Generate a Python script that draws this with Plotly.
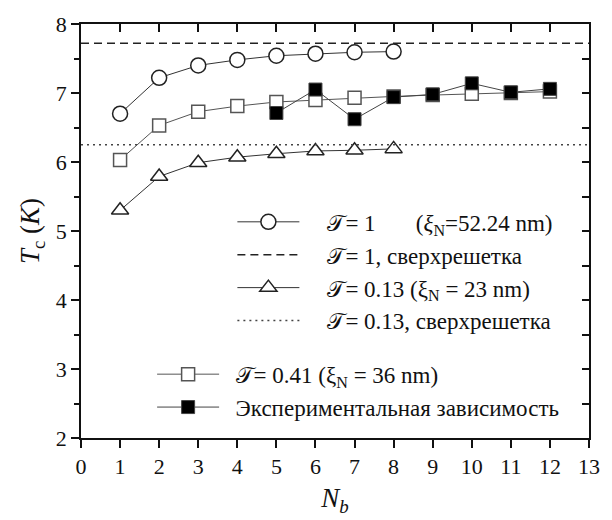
import plotly.graph_objects as go

# ---- data ----
nb_circ = [1, 2, 3, 4, 5, 6, 7, 8]
tc_circ = [6.70, 7.22, 7.40, 7.48, 7.54, 7.57, 7.59, 7.60]

nb_tri = [1, 2, 3, 4, 5, 6, 7, 8]
tc_tri = [5.30, 5.79, 5.99, 6.07, 6.12, 6.16, 6.17, 6.19]

nb_sq = [1, 2, 3, 4, 5, 6, 7, 8, 9, 10, 11, 12]
tc_sq = [6.03, 6.53, 6.73, 6.81, 6.87, 6.90, 6.93, 6.95, 6.97, 6.99, 7.00, 7.02]

nb_exp = [5, 6, 7, 8, 9, 10, 11, 12]
tc_exp = [6.71, 7.05, 6.62, 6.94, 6.98, 7.14, 7.01, 7.06]

sl_x = [0, 13]
tc_sl_1 = 7.72
tc_sl_013 = 6.25

x_ticks = list(range(0, 14))
y_ticks = [2, 3, 4, 5, 6, 7, 8]

SCRIPT_T = "\U0001D4AF"
FONT = '"Liberation Serif", "DejaVu Serif"'
PAD = "    "

fig = go.Figure()

fig.add_trace(go.Scatter(
    x=nb_circ, y=tc_circ, mode="lines+markers",
    name=PAD + SCRIPT_T + "= 1       (<i>ξ</i><sub>N</sub>=52.24 nm)",
    line=dict(color="#333333", width=1),
    marker=dict(symbol="circle", size=15, color="white",
                line=dict(color="#222222", width=1.5)),
    legend="legend", legendgroup="a"))

fig.add_trace(go.Scatter(
    x=sl_x, y=[tc_sl_1, tc_sl_1], mode="lines",
    name=PAD + SCRIPT_T + "= 1, сверхрешетка",
    line=dict(color="#222222", width=1.6, dash="8px,5px"),
    legend="legend", legendgroup="b"))

fig.add_trace(go.Scatter(
    x=nb_tri, y=tc_tri, mode="lines+markers",
    name=PAD + SCRIPT_T + "= 0.13 (ξ<sub>N</sub> = 23 nm)",
    line=dict(color="#333333", width=1),
    marker=dict(symbol="triangle-up", size=15, color="white",
                line=dict(color="#222222", width=1.5)),
    legend="legend", legendgroup="c"))

fig.add_trace(go.Scatter(
    x=sl_x, y=[tc_sl_013, tc_sl_013], mode="lines",
    name=PAD + SCRIPT_T + "= 0.13, сверхрешетка",
    line=dict(color="#444444", width=1.6, dash="2px,4px"),
    legend="legend", legendgroup="d"))

fig.add_trace(go.Scatter(
    x=nb_sq, y=tc_sq, mode="lines+markers",
    name="  " + SCRIPT_T + "= 0.41 (ξ<sub>N</sub> = 36 nm)",
    line=dict(color="#555555", width=1),
    marker=dict(symbol="square", size=13, color="white",
                line=dict(color="#555555", width=1.5)),
    legend="legend2", legendgroup="e"))

fig.add_trace(go.Scatter(
    x=nb_exp, y=tc_exp, mode="lines+markers",
    name="  Экспериментальная зависимость",
    line=dict(color="#444444", width=1),
    marker=dict(symbol="square", size=13, color="black",
                line=dict(color="#444444", width=1)),
    legend="legend2", legendgroup="f"))

# dummy trace to activate mirrored (top/right) axes
fig.add_trace(go.Scatter(x=[None], y=[None], xaxis="x2", yaxis="y2",
                         showlegend=False, hoverinfo="skip"))

legend_common = dict(
    font=dict(family=FONT, size=23, color="#111111"),
    bgcolor="rgba(0,0,0,0)", borderwidth=0,
    xanchor="left", yanchor="top",
    itemwidth=62, traceorder="normal")

fig.update_layout(
    width=612, height=520,
    margin=dict(l=81, r=16, t=17, b=80),
    paper_bgcolor="white", plot_bgcolor="white",
    font=dict(family=FONT, color="#111111"),
    legend=dict(x=0.298, y=0.574, tracegroupgap=1, **legend_common),
    legend2=dict(x=0.14, y=0.206, tracegroupgap=3, **legend_common),
    xaxis=dict(
        range=[0, 13], tickvals=x_ticks, ticks="outside", ticklen=8,
        tickwidth=1.5, tickcolor="#111", showline=True, linewidth=1.5,
        linecolor="#111", showgrid=False, zeroline=False,
        tickfont=dict(family=FONT, size=22, color="#111"),
        title=dict(text="<i>N</i><sub><i>b</i></sub>",
                   font=dict(family=FONT, size=27, color="#111"), standoff=10)),
    yaxis=dict(
        range=[2, 8], tickvals=y_ticks, ticks="outside", ticklen=8,
        tickwidth=1.5, tickcolor="#111", showline=True, linewidth=1.5,
        linecolor="#111", showgrid=False, zeroline=False,
        minor=dict(dtick=0.5, ticks="outside", ticklen=5, tickwidth=1.5,
                   tickcolor="#111", showgrid=False),
        tickfont=dict(family=FONT, size=22, color="#111"),
        title=dict(text="<i>T</i><sub>c</sub> (<i>K</i>)",
                   font=dict(family=FONT, size=27, color="#111"), standoff=8)),
    xaxis2=dict(
        range=[0, 13], tickvals=x_ticks, overlaying="x", side="top",
        ticks="inside", ticklen=8, tickwidth=1.5, tickcolor="#111",
        showline=True, linewidth=1.5, linecolor="#111",
        showticklabels=False, showgrid=False, zeroline=False),
    yaxis2=dict(
        range=[2, 8], dtick=0.5, tick0=2, overlaying="y", side="right",
        ticks="inside", ticklen=7, tickwidth=1.5, tickcolor="#111",
        showline=True, linewidth=1.5, linecolor="#111",
        showticklabels=False, showgrid=False, zeroline=False),
)

fig.write_html("out.html")
